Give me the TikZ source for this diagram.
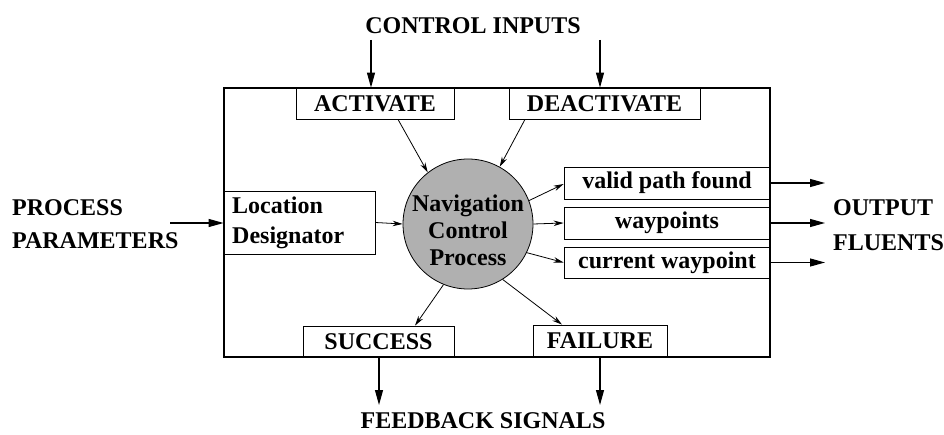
\documentclass[tikz,border=0pt]{standalone}
\usepackage{fontspec}
\setmainfont{Liberation Serif}
\usetikzlibrary{arrows.meta,calc}
\definecolor{navgray}{RGB}{176,176,176}
\begin{document}
\begin{tikzpicture}[x=1pt,y=-1pt,
  every node/.style={font=\bfseries\fontsize{24}{27}\selectfont, inner sep=0pt},
  frame/.style={draw, line width=1.1pt},
  sbox/.style={draw, line width=0.8pt, fill=white},
  bigarrow/.style={line width=1.1pt, -{Triangle[length=15pt,width=8pt]}},
  smallarrow/.style={line width=0.8pt, -{Stealth[length=10pt,width=5.5pt]}}]
\useasboundingbox (0,0) rectangle (944,435);
% main frame
\draw[frame] (224,88) rectangle (770,357);
% boxes
\node[sbox, minimum width=158pt, minimum height=31pt] (act) at (375,103.5) {ACTIVATE};
\node[sbox, minimum width=191pt, minimum height=31pt] (deact) at (604.5,103.5) {DEACTIVATE};
\node[sbox, minimum width=151pt, minimum height=63pt] (loc) at (299.5,222.5) {};
\node[anchor=west, align=left, font=\bfseries\fontsize{24}{30}\selectfont] (loctext) at (232,222.5) {Location\\Designator};
\node[sbox, minimum width=206pt, minimum height=32pt] (valid) at (667,183) {valid path found};
\node[sbox, minimum width=206pt, minimum height=32pt] (wp) at (667,223) {waypoints};
\node[sbox, minimum width=206pt, minimum height=31pt] (cur) at (667,262.5) {current waypoint};
\node[sbox, minimum width=151pt, minimum height=31pt] (succ) at (378.5,341.5) {SUCCESS};
\node[sbox, minimum width=134pt, minimum height=32pt] (fail) at (600,341) {FAILURE};
% circle
\node[circle, draw, line width=0.8pt, fill=navgray, minimum size=130pt] (nav) at (468,224) {};
\node[align=center, font=\bfseries\fontsize{24}{27}\selectfont] (navtext) at (468,230) {Navigation\\Control\\Process};
% redraw main frame lines on top of box edges
\draw[frame] (224,88) -- (770,88) -- (770,357) -- (224,357) -- cycle;
% outside labels
\node (ci) at (473,26) {CONTROL INPUTS};
\node[anchor=west, align=left, font=\bfseries\fontsize{24}{33}\selectfont] (pp) at (12,224) {PROCESS\\PARAMETERS};
\node[anchor=west, align=left, font=\bfseries\fontsize{24}{35}\selectfont] (of) at (833,225) {OUTPUT\\FLUENTS};
\node (fs) at (483,421) {FEEDBACK SIGNALS};
% free ends
\coordinate (ci1) at (371,40);
\coordinate (ci2) at (600,40);
\coordinate (pp1) at (170,223);
\coordinate (o1) at (825,183);
\coordinate (o2) at (825,223);
\coordinate (o3) at (825,262.5);
\coordinate (f1) at (379,405);
\coordinate (f2) at (600,405);
% external arrows
\draw[bigarrow] (ci1) -- (ci1 |- act.north);
\draw[bigarrow] (ci2) -- (ci2 |- deact.north);
\draw[bigarrow] (pp1) -- (loc.west |- pp1);
\draw[bigarrow] (valid.east) -- (o1);
\draw[bigarrow] (wp.east) -- (o2);
\draw[bigarrow] (cur.east) -- (o3);
\draw[bigarrow] (f1 |- succ.south) -- (f1);
\draw[bigarrow] (f2 |- fail.south) -- (f2);
% internal arrows
\draw[smallarrow] ([xshift=23pt]act.south) -- (nav.128);
\draw[smallarrow] ([xshift=-79.5pt]deact.south) -- (nav.61);
\draw[smallarrow] (loc.east) -- (nav.west);
\draw[smallarrow] (nav.21) -- ([yshift=-1pt]valid.west);
\draw[smallarrow] (nav.east) -- (wp.west);
\draw[smallarrow] (nav.-26) -- (cur.west);
\draw[smallarrow] (nav.-112) -- ([xshift=36.5pt]succ.north);
\draw[smallarrow] (nav.-58) -- ([xshift=-38pt]fail.north);
\end{tikzpicture}
\end{document}
